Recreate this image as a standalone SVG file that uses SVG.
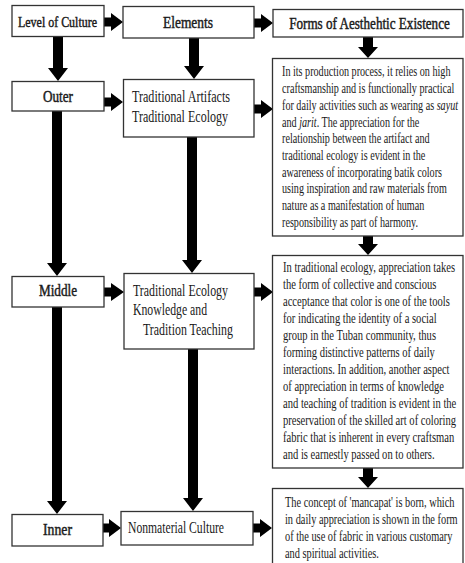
<svg xmlns="http://www.w3.org/2000/svg" width="465" height="563" viewBox="0 0 465 563">
<style>
.box{fill:#fff;stroke:#333;stroke-width:1.3}
.lbl{font-family:"Liberation Serif",serif;fill:#1a1a1a;stroke:#1a1a1a;stroke-width:0.45}
.el{font-family:"Liberation Serif",serif;fill:#1a1a1a;font-size:16px}
.para{font-family:"Liberation Serif",serif;fill:#1a1a1a;font-size:14px}
.arr{fill:#000}
</style>
<rect width="465" height="563" fill="#fff"/>
<g id="connectors">
<polygon class="arr" points="104,17.5 111,17.5 111,13 123,22 111,31 111,26.5 104,26.5"/>
<polygon class="arr" points="254,18.5 261,18.5 261,14 273,23 261,32 261,27.5 254,27.5"/>
<polygon class="arr" points="104,97.5 111,97.5 111,93 123,102 111,111 111,106.5 104,106.5"/>
<polygon class="arr" points="254,104.5 261,104.5 261,100 273,109 261,118 261,113.5 254,113.5"/>
<polygon class="arr" points="104,287.5 111,287.5 111,283 124,292 111,301 111,296.5 104,296.5"/>
<polygon class="arr" points="254,287.5 261,287.5 261,283 273,292 261,301 261,296.5 254,296.5"/>
<polygon class="arr" points="103,523.5 109,523.5 109,519 121,528 109,537 109,532.5 103,532.5"/>
<polygon class="arr" points="253,523.5 260,523.5 260,519 272,528 260,537 260,532.5 253,532.5"/>
<polygon class="arr" points="53,36 63,36 63,68 68,68 58,81 48,68 53,68"/>
<polygon class="arr" points="189,38 199,38 199,66 204,66 194,79 184,66 189,66"/>
<polygon class="arr" points="363,37 373,37 373,47 378,47 368,58 358,47 363,47"/>
<polygon class="arr" points="52,111 62,111 62,263 67,263 57,276 47,263 52,263"/>
<polygon class="arr" points="187,137 197,137 197,260 202,260 192,273 182,260 187,260"/>
<polygon class="arr" points="52,307 62,307 62,501 67,501 57,514 47,501 52,501"/>
<polygon class="arr" points="188,349 198,349 198,498 203,498 193,511 183,498 188,498"/>
<polygon class="arr" points="363,236 373,236 373,244 378,244 368,255 358,244 363,244"/>
<polygon class="arr" points="363,468 373,468 373,477 378,477 368,488 358,477 363,477"/>
</g>
<g id="level">
<rect class="box" x="12" y="5.5" width="92" height="31"/>
<text class="lbl" x="18" y="26.5" font-size="15" textLength="79" lengthAdjust="spacingAndGlyphs">Level of Culture</text>
</g>
<g id="elements">
<rect class="box" x="123" y="6.5" width="131" height="31.5"/>
<text class="lbl" x="163" y="28" font-size="16" textLength="50" lengthAdjust="spacingAndGlyphs">Elements</text>
</g>
<g id="forms">
<rect class="box" x="273" y="9.5" width="190" height="27.5"/>
<g transform="translate(369.5,29) scale(0.82,1)">
<text class="lbl" x="0" y="0" font-size="16" text-anchor="middle">Forms of Aesthehtic Existence</text>
</g>
</g>
<g id="outer">
<rect class="box" x="12" y="81.5" width="92" height="29.5"/>
<text class="lbl" x="43" y="102" font-size="16" textLength="30" lengthAdjust="spacingAndGlyphs">Outer</text>
</g>
<g id="artifacts">
<rect class="box" x="123.5" y="79.5" width="130.5" height="57.5"/>
<text class="el" x="132" y="102" textLength="98" lengthAdjust="spacingAndGlyphs">Traditional Artifacts</text>
<text class="el" x="132" y="122" textLength="96" lengthAdjust="spacingAndGlyphs">Traditional Ecology</text>
</g>
<g id="middle">
<rect class="box" x="12" y="276.5" width="92" height="30.5"/>
<text class="lbl" x="39" y="296" font-size="16" textLength="38" lengthAdjust="spacingAndGlyphs">Middle</text>
</g>
<g id="ecology">
<rect class="box" x="124" y="273.5" width="130" height="75.5"/>
<text class="el" x="133" y="296" textLength="95" lengthAdjust="spacingAndGlyphs">Traditional Ecology</text>
<text class="el" x="133" y="315" textLength="74" lengthAdjust="spacingAndGlyphs">Knowledge and</text>
<text class="el" x="143" y="335" textLength="90" lengthAdjust="spacingAndGlyphs">Tradition Teaching</text>
</g>
<g id="inner">
<rect class="box" x="12" y="514.5" width="91" height="31.5"/>
<text class="lbl" x="43" y="535" font-size="16" textLength="29" lengthAdjust="spacingAndGlyphs">Inner</text>
</g>
<g id="nonmaterial">
<rect class="box" x="121" y="511.5" width="132" height="33.5"/>
<text class="el" x="128" y="533" textLength="96" lengthAdjust="spacingAndGlyphs">Nonmaterial Culture</text>
</g>
<g id="text1">
<rect class="box" x="272.5" y="58.5" width="190.5" height="177.5"/>
<g transform="translate(282,0) scale(0.725,1)">
<text class="para" x="0" y="76.5">In its production process, it relies on high</text>
<text class="para" x="0" y="93.2">craftsmanship and is functionally practical</text>
<text class="para" x="0" y="109.9">for daily activities such as wearing as <tspan font-style="italic">sayut</tspan></text>
<text class="para" x="0" y="126.6">and <tspan font-style="italic">jarit</tspan>. The appreciation for the</text>
<text class="para" x="0" y="143.3">relationship between the artifact and</text>
<text class="para" x="0" y="160">traditional ecology is evident in the</text>
<text class="para" x="0" y="176.7">awareness of incorporating batik colors</text>
<text class="para" x="0" y="193.4">using inspiration and raw materials from</text>
<text class="para" x="0" y="210.1">nature as a manifestation of human</text>
<text class="para" x="0" y="226.8">responsibility as part of harmony.</text>
</g>
</g>
<g id="text2">
<rect class="box" x="272.5" y="255.5" width="190.5" height="212.5"/>
<g transform="translate(283,0) scale(0.755,1)">
<text class="para" x="0" y="272.5">In traditional ecology, appreciation takes</text>
<text class="para" x="0" y="289.5">the form of collective and conscious</text>
<text class="para" x="0" y="306.5">acceptance that color is one of the tools</text>
<text class="para" x="0" y="323.5">for indicating the identity of a social</text>
<text class="para" x="0" y="340.5">group in the Tuban community, thus</text>
<text class="para" x="0" y="357.5">forming distinctive patterns of daily</text>
<text class="para" x="0" y="374.5">interactions. In addition, another aspect</text>
<text class="para" x="0" y="391.5">of appreciation in terms of knowledge</text>
<text class="para" x="0" y="408.5">and teaching of tradition is evident in the</text>
<text class="para" x="0" y="425.5">preservation of the skilled art of coloring</text>
<text class="para" x="0" y="442.5">fabric that is inherent in every craftsman</text>
<text class="para" x="0" y="459.5">and is earnestly passed on to others.</text>
</g>
</g>
<g id="text3">
<rect class="box" x="272.5" y="488.5" width="190.5" height="80"/>
<g transform="translate(285,0) scale(0.74,1)">
<text class="para" x="0" y="507.5">The concept of 'mancapat' is born, which</text>
<text class="para" x="0" y="524.5">in daily appreciation is shown in the form</text>
<text class="para" x="0" y="541.5">of the use of fabric in various customary</text>
<text class="para" x="0" y="558.5">and spiritual activities.</text>
</g>
</g>
</svg>
